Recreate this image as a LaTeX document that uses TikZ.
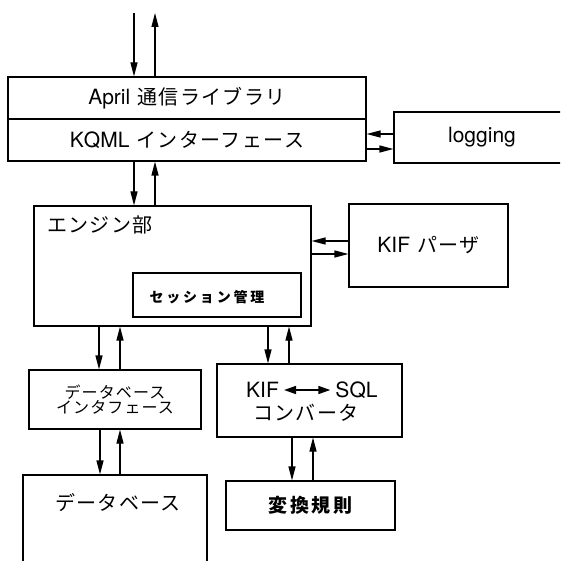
\documentclass[tikz,border=0pt]{standalone}
\usepackage{fontspec}
\setmainfont{TeX Gyre Heros}
\newfontfamily\jpfont{Noto Sans CJK JP}
\usetikzlibrary{arrows.meta}
\newcommand{\latsz}{\fontsize{21}{24}\selectfont}
\newcommand{\jpL}{\jpfont\fontsize{20}{23}\selectfont\addfontfeature{LetterSpace=7}}
\newcommand{\jpR}{\jpfont\bfseries\fontsize{19}{22}\selectfont\addfontfeature{LetterSpace=15}}
\newcommand{\jpM}{\jpfont\fontsize{16}{18}\selectfont\addfontfeature{LetterSpace=7}}
\newcommand{\jpS}{\jpfont\bfseries\fontsize{14}{16}\selectfont\addfontfeature{LetterSpace=20}}
\newcommand{\gap}{\hspace{7pt}}
\begin{document}
\begin{tikzpicture}[x=1pt,y=-1pt,
  box/.style={draw, line width=1.1pt, inner sep=0pt},
  txt/.style={inner sep=0pt},
  arr/.style={-{Triangle[length=14pt,width=7pt]}, line width=1.1pt}]
\useasboundingbox (0,0) rectangle (560,561);
\clip (0,0) rectangle (560,561);

% boxes
\node[box, minimum width=358pt, minimum height=42pt] (april) at (187,98) {{\latsz April}\gap{\jpL 通信ライブラリ}};
\node[box, minimum width=358pt, minimum height=42pt] (kqml) at (187,140) {{\latsz KQML}\gap{\jpL インターフェース}};
\node[box, minimum width=176pt, minimum height=51pt] (logging) at (482,137.5) {\latsz logging};
\node[box, minimum width=277pt, minimum height=120pt] (engine) at (172.5,266) {};
\node[txt, anchor=west] (enginelbl) at (47,225) {\jpL エンジン部};
\node[box, minimum width=168pt, minimum height=44pt] (session) at (217,295) {};
\node[txt] (sessionlbl) at (207,297) {\jpS セッション管理};
\node[box, minimum width=159pt, minimum height=83pt] (parser) at (428.5,245.5) {{\latsz KIF}\gap{\jpL パーザ}};
\node[box, minimum width=172pt, minimum height=59pt, align=center] (dbif) at (115,399.5) {{\jpM データベース}\\[0pt]{\jpM インタフェース}};
\node[box, minimum width=185pt, minimum height=73pt] (conv) at (309.5,400.5) {};
\node[txt, inner xsep=5pt] (kif) at (262.5,390) {\latsz KIF};
\node[txt, inner xsep=5pt] (sql) at (356.5,390) {\latsz SQL};
\node[txt] (convlbl) at (306,413) {\jpL コンバータ};
\node[box, minimum width=169pt, minimum height=49pt] (rule) at (310.5,505.5) {\jpR 変換規則};
\node[box, minimum width=184pt, minimum height=110pt] (db) at (115,530) {};
\node[txt] (dblbl) at (118,503) {\jpL データベース};

% helper coordinates
\coordinate (top) at (0,13);
\coordinate (x134) at (134,0);
\coordinate (x155) at (155,0);
\coordinate (x99) at (99,0);
\coordinate (x120) at (120,0);
\coordinate (x100) at (100,0);
\coordinate (x268) at (268,0);
\coordinate (x289) at (289,0);
\coordinate (x292) at (292,0);
\coordinate (x313) at (313,0);
\coordinate (y134) at (0,134);
\coordinate (y149) at (0,149);
\coordinate (y241) at (0,241);
\coordinate (y254) at (0,254);

% connectors
\draw[arr] (x134 |- top) -- (x134 |- april.north);
\draw[arr] (x155 |- april.north) -- (x155 |- top);
\draw[arr] (x134 |- kqml.south) -- (x134 |- engine.north);
\draw[arr] (x155 |- engine.north) -- (x155 |- kqml.south);
\draw[arr] (logging.west |- y134) -- (kqml.east |- y134);
\draw[arr] (kqml.east |- y149) -- (logging.west |- y149);
\draw[arr] (parser.west |- y241) -- (engine.east |- y241);
\draw[arr] (engine.east |- y254) -- (parser.west |- y254);
\draw[arr] (x99 |- engine.south) -- (x99 |- dbif.north);
\draw[arr] (x120 |- dbif.north) -- (x120 |- engine.south);
\draw[arr] (x268 |- engine.south) -- (x268 |- conv.north);
\draw[arr] (x289 |- conv.north) -- (x289 |- engine.south);
\draw[arr] (x100 |- dbif.south) -- (x100 |- db.north);
\draw[arr] (x120 |- db.north) -- (x120 |- dbif.south);
\draw[arr] (x292 |- conv.south) -- (x292 |- rule.north);
\draw[arr] (x313 |- rule.north) -- (x313 |- conv.south);
\draw[{Triangle[length=12pt,width=8pt]}-{Triangle[length=12pt,width=8pt]}, line width=1.6pt] (kif.east) -- (sql.west);
\end{tikzpicture}
\end{document}
